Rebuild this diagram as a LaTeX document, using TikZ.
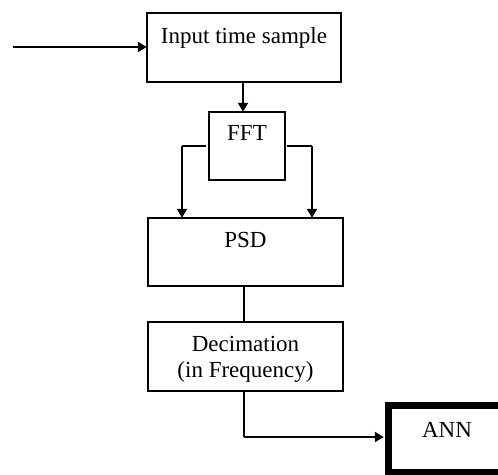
\documentclass[tikz,border=0pt]{standalone}
\usepackage{fontspec}
\setmainfont{Liberation Serif}
\usetikzlibrary{arrows.meta}
\begin{document}
\begin{tikzpicture}[x=1pt,y=-1pt,
  box/.style={draw=black,line width=2pt,fill=white},
  lbl/.style={anchor=base,inner sep=0pt,font=\fontsize{23}{27}\selectfont},
  conn/.style={line width=2pt},
  arr/.style={conn,-{Triangle[length=9pt,width=10pt]}}]
\useasboundingbox (0,0) rectangle (498,474);
\clip (0,0) rectangle (498,474);
% blocks
\draw[box] (147,13) rectangle (341,82);
\node[inner sep=0pt,minimum width=194pt,minimum height=69pt] (inp) at (244,47.5) {};
\draw[box] (209,112) rectangle (285,180);
\node[inner sep=0pt,minimum width=76pt,minimum height=68pt] (fft) at (247,146) {};
\draw[box] (148,218) rectangle (343,286);
\node[inner sep=0pt,minimum width=195pt,minimum height=68pt] (psd) at (245.5,252) {};
\draw[box] (148,322) rectangle (343,391);
\node[inner sep=0pt,minimum width=195pt,minimum height=69pt] (dec) at (245.5,356.5) {};
\draw[draw=black,line width=7pt] (388,405.5) rectangle (506,472.5);
\node[inner sep=0pt,minimum width=122pt,minimum height=74pt] (ann) at (445,439) {};
% labels
\node[lbl] (tinp) at (244,43) {Input time sample};
\node[lbl] (tfft) at (247,140) {FFT};
\node[lbl] (tpsd) at (245.5,247) {PSD};
\node[lbl] (tdec1) at (245.5,351) {Decimation};
\node[lbl] (tdec2) at (245.5,377) {(in Frequency)};
\node[lbl] (tann) at (447,437) {ANN};
% connectors
\coordinate (src) at (13,47);
\coordinate (lsplit) at (182,146);
\coordinate (rsplit) at (312,146);
\coordinate (bend) at (244,437);
\draw[arr] (src) -- (inp.west |- src);
\draw[arr] (inp.south -| 243,0) -- (fft.north -| 243,0);
\draw[conn,shorten <=3pt] (fft.west) -- (lsplit);
\draw[arr] (lsplit) -- (lsplit |- psd.north);
\draw[conn,shorten <=2pt] (fft.east) -- (rsplit);
\draw[arr] (rsplit) -- (rsplit |- psd.north);
\draw[conn] (psd.south -| bend) -- (dec.north -| bend);
\draw[conn] (dec.south -| bend) -- (bend);
\draw[arr] (bend) -- (bend -| ann.west);
\end{tikzpicture}
\end{document}
